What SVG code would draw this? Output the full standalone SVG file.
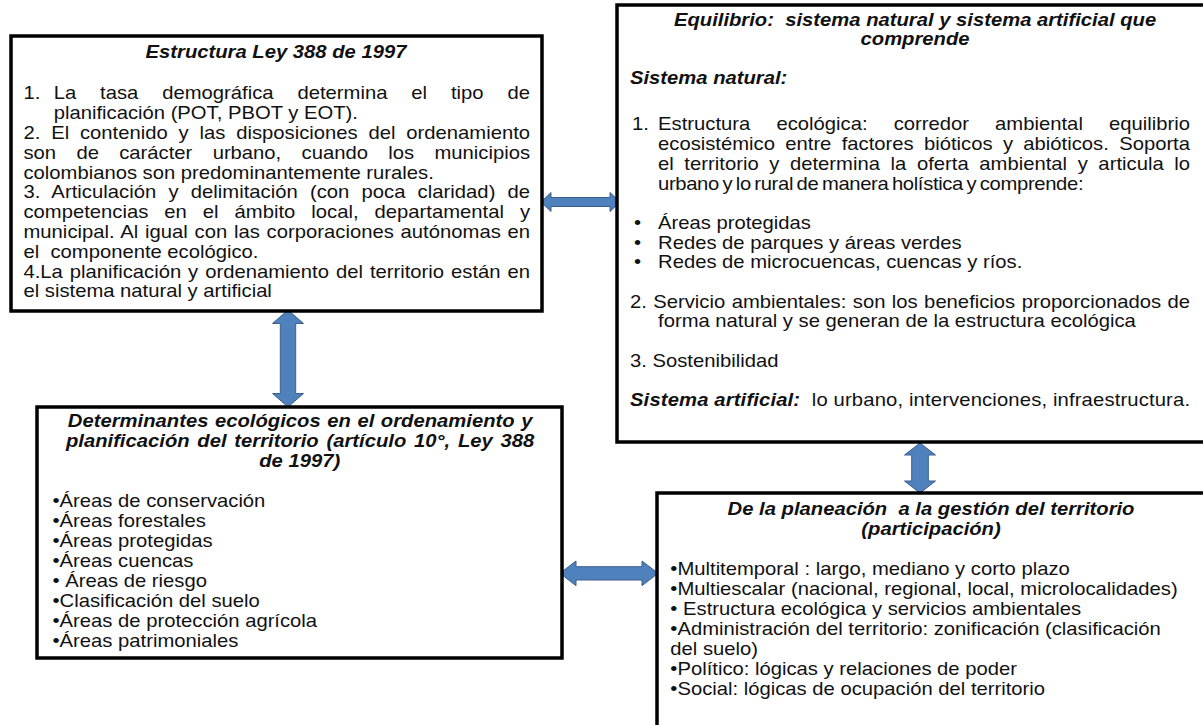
<svg xmlns="http://www.w3.org/2000/svg" width="1203" height="725" viewBox="0 0 1203 725">
<style>
.box{fill:#fff;stroke:#000;stroke-width:3.5}
.arr{fill:#4F81BD;stroke:#3A5F8F;stroke-width:1}
.t{font-family:"Liberation Sans",Arial,sans-serif;font-size:17.6px;fill:#111}
.b{font-weight:bold;font-style:italic}
.m{text-anchor:middle}
</style>
<rect width="1203" height="725" fill="#fff"/>
<g id="connectors">
<path class="arr" d="M541,202 L551,192.5 L551,197.5 L610,197.5 L610,192.5 L620,202 L610,211.5 L610,206.5 L551,206.5 L551,211.5 Z"/>
<path class="arr" d="M288,310 L303.5,323.5 L295.7,323.5 L295.7,393.5 L303.5,393.5 L288,407 L272.5,393.5 L280.3,393.5 L280.3,323.5 L272.5,323.5 Z"/>
<path class="arr" d="M560,573.3 L576,561 L576,566.7 L642,566.7 L642,561 L658,573.3 L642,585.7 L642,580 L576,580 L576,585.7 Z"/>
<path class="arr" d="M920,443 L935.5,455 L928.3,455 L928.3,481 L935.5,481 L920,493 L904.5,481 L911.7,481 L911.7,455 L904.5,455 Z"/>
</g>
<g id="node-ley388">
<rect class="box" x="11" y="36" width="531" height="275"/>
<g class="t" transform="scale(1.15,1)">
<text class="b m" x="240" y="58.5">Estructura Ley 388 de 1997</text>
<text x="20.4" y="99.5">1.</text>
<text x="46.7" y="99.5" word-spacing="15.9" textLength="414.2" lengthAdjust="spacing">La tasa demográfica determina el tipo de</text>
<text x="46.7" y="119.3">planificación (POT, PBOT y EOT).</text>
<text x="20.4" y="139.1" word-spacing="4.5" textLength="440.5" lengthAdjust="spacing">2. El contenido y las disposiciones del ordenamiento</text>
<text x="20.4" y="158.9" word-spacing="12.8" textLength="440.5" lengthAdjust="spacing">son de carácter urbano, cuando los municipios</text>
<text x="20.4" y="178.7">colombianos son predominantemente rurales.</text>
<text x="20.4" y="198.5" word-spacing="5.6" textLength="440.5" lengthAdjust="spacing">3. Articulación y delimitación (con poca claridad) de</text>
<text x="20.4" y="218.3" word-spacing="9" textLength="440.5" lengthAdjust="spacing">competencias en el ámbito local, departamental y</text>
<text x="20.4" y="238.1" word-spacing="0.9" textLength="440.5" lengthAdjust="spacing">municipal. Al igual con las corporaciones autónomas en</text>
<text x="20.4" y="257.9" xml:space="preserve">el  componente ecológico.</text>
<text x="20.4" y="277.7" word-spacing="1.2" textLength="440.5" lengthAdjust="spacing">4.La planificación y ordenamiento del territorio están en</text>
<text x="20.4" y="297.5">el sistema natural y artificial</text>
</g>
</g>
<g id="node-equilibrio">
<rect class="box" x="617" y="5" width="600" height="437"/>
<g class="t" transform="scale(1.15,1)">
<text class="b m" x="795.7" y="26.5" xml:space="preserve">Equilibrio:  sistema natural y sistema artificial que</text>
<text class="b m" x="795.7" y="45">comprende</text>
<text class="b" x="547.8" y="84">Sistema natural:</text>
<text x="549.6" y="130.5">1.</text>
<text x="572.2" y="130.5" word-spacing="17.8" textLength="462.6" lengthAdjust="spacing">Estructura ecológica: corredor ambiental equilibrio</text>
<text x="572.2" y="150.2" word-spacing="4.1" textLength="462.6" lengthAdjust="spacing">ecosistémico entre factores bióticos y abióticos. Soporta</text>
<text x="572.2" y="169.9" word-spacing="4.3" textLength="462.6" lengthAdjust="spacing">el territorio y determina la oferta ambiental y articula lo</text>
<text x="572.2" y="189.6" word-spacing="-1.5" textLength="370" lengthAdjust="spacing">urbano y lo rural de manera holística y comprende:</text>
<text x="551.3" y="229">•</text><text x="572.2" y="229">Áreas protegidas</text>
<text x="551.3" y="248.7">•</text><text x="572.2" y="248.7">Redes de parques y áreas verdes</text>
<text x="551.3" y="268.4">•</text><text x="572.2" y="268.4">Redes de microcuencas, cuencas y ríos.</text>
<text x="547.8" y="307.8" word-spacing="0.7" textLength="487" lengthAdjust="spacing">2. Servicio ambientales: son los beneficios proporcionados de</text>
<text x="572.2" y="327.5">forma natural y se generan de la estructura ecológica</text>
<text x="547.8" y="366.9">3. Sostenibilidad</text>
<text x="547.8" y="406.3" xml:space="preserve" textLength="487" lengthAdjust="spacing"><tspan class="b">Sistema artificial:</tspan>  lo urbano, intervenciones, infraestructura.</text>
</g>
</g>
<g id="node-determinantes">
<rect class="box" x="37" y="407" width="525" height="251"/>
<g class="t" transform="scale(1.15,1)">
<text class="b" x="59" y="427" word-spacing="0.8" textLength="404" lengthAdjust="spacing">Determinantes ecológicos en el ordenamiento y</text>
<text class="b" x="57.3" y="447" word-spacing="1.8" textLength="407.3" lengthAdjust="spacing">planificación del territorio (artículo 10°, Ley 388</text>
<text class="b m" x="260.6" y="467">de 1997)</text>
<text x="45.7" y="507">•Áreas de conservación</text>
<text x="45.7" y="527">•Áreas forestales</text>
<text x="45.7" y="547">•Áreas protegidas</text>
<text x="45.7" y="567">•Áreas cuencas</text>
<text x="45.7" y="587">• Áreas de riesgo</text>
<text x="45.7" y="607">•Clasificación del suelo</text>
<text x="45.7" y="627">•Áreas de protección agrícola</text>
<text x="45.7" y="647">•Áreas patrimoniales</text>
</g>
</g>
<g id="node-gestion">
<rect class="box" x="657" y="493" width="560" height="250"/>
<g class="t" transform="scale(1.15,1)">
<text class="b m" x="809.6" y="515" xml:space="preserve">De la planeación  a la gestión del territorio</text>
<text class="b m" x="809.6" y="535.5">(participación)</text>
<text x="582.9" y="575.5">•Multitemporal : largo, mediano y corto plazo</text>
<text x="582.9" y="595.5">•Multiescalar (nacional, regional, local, microlocalidades)</text>
<text x="582.9" y="615.5">• Estructura ecológica y servicios ambientales</text>
<text x="582.9" y="635.5">•Administración del territorio: zonificación (clasificación</text>
<text x="582.9" y="655.5">del suelo)</text>
<text x="582.9" y="675.5">•Político: lógicas y relaciones de poder</text>
<text x="582.9" y="695.5">•Social: lógicas de ocupación del territorio</text>
</g>
</g>
</svg>
